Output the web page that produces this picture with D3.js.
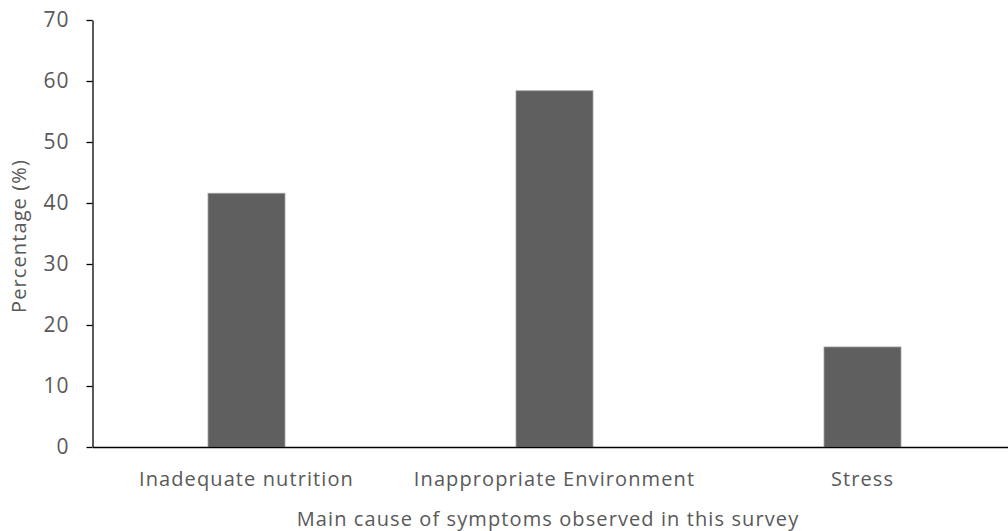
<!DOCTYPE html>
<html>
<head>
<meta charset="utf-8">
<script src="https://cdn.jsdelivr.net/npm/d3@7"></script>
<style>
  body { margin: 0; background: #fff; }
  text { font-family: "Open Sans", "Noto Sans", sans-serif; }
</style>
</head>
<body>
<div id="chart"></div>
<script>
const categories = ["Inadequate nutrition", "Inappropriate Environment", "Stress"];
const values = [41.6, 58.4, 16.4];
const yTicks = [0, 10, 20, 30, 40, 50, 60, 70];

const W = 1008, H = 531;
const margin = { top: 20, right: -8.5, bottom: 84, left: 92.5 };
const width = W - margin.left - margin.right;
const height = H - margin.top - margin.bottom;

const svg = d3.select("#chart").append("svg")
  .attr("width", W).attr("height", H)
  .append("g")
  .attr("transform", `translate(${margin.left},${margin.top})`);

const x = d3.scaleBand().domain(categories).range([0, width])
  .paddingInner(0.75).paddingOuter(0.375);
const y = d3.scaleLinear().domain([0, 70]).range([height, 0]);

// bars
svg.selectAll(".bar").data(values).enter().append("rect")
  .attr("x", (d, i) => x(categories[i]))
  .attr("y", d => y(d))
  .attr("width", x.bandwidth())
  .attr("height", d => height - y(d))
  .attr("fill", "#5f5f5f")
  .attr("stroke", "#a0a0a0")
  .attr("stroke-width", 0.8);

// y axis
const yAxis = svg.append("g")
  .call(d3.axisLeft(y).tickValues(yTicks).tickSize(6).tickSizeOuter(0).tickPadding(17));
yAxis.select(".domain").attr("stroke", "#000").attr("stroke-width", 1.3);
yAxis.selectAll(".tick line").attr("stroke", "#000").attr("stroke-width", 1.3);
yAxis.selectAll("text").attr("fill", "#595959")
  .style("font-size", "21px").style("letter-spacing", "1px");

// x axis
const xAxis = svg.append("g")
  .attr("transform", `translate(0,${height})`)
  .call(d3.axisBottom(x).tickSize(0).tickPadding(25));
xAxis.select(".domain").attr("stroke", "#000").attr("stroke-width", 1.3);
xAxis.selectAll("text").attr("fill", "#595959")
  .style("font-size", "20px").style("letter-spacing", "1.1px");

// axis titles
svg.append("text")
  .attr("x", 548 - margin.left)
  .attr("y", height + 79)
  .attr("text-anchor", "middle")
  .attr("fill", "#595959")
  .style("font-size", "20px")
  .style("letter-spacing", "1.1px")
  .text("Main cause of symptoms observed in this survey");

svg.append("text")
  .attr("transform", `translate(${26 - margin.left},${236 - margin.top}) rotate(-90)`)
  .attr("text-anchor", "middle")
  .attr("fill", "#595959")
  .style("font-size", "20px")
  .style("letter-spacing", "1.1px")
  .text("Percentage (%)");
</script>
</body>
</html>
